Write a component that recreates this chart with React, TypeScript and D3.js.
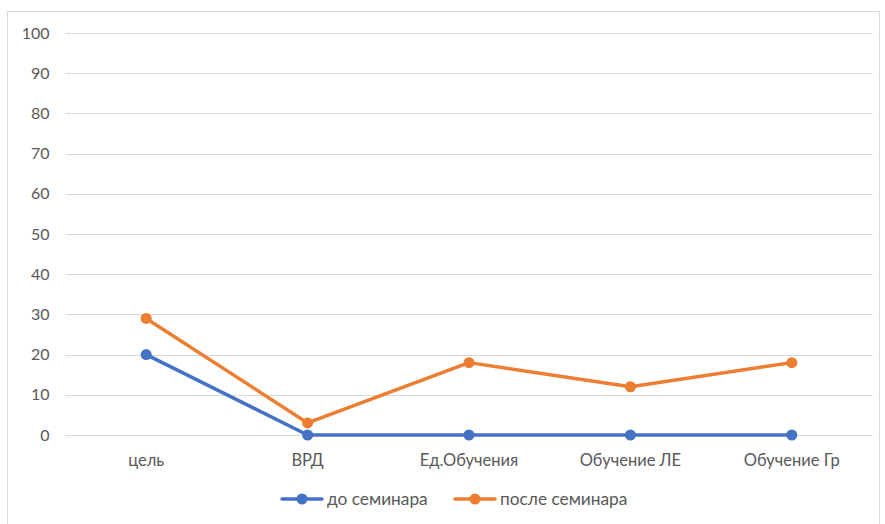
import React from "react";
import * as d3 from "d3";

const categories = ["цель", "ВРД", "Ед.Обучения", "Обучение ЛЕ", "Обучение Гр"];
const beforeValues = [20, 0, 0, 0, 0];
const afterValues = [29, 3, 18, 12, 18];
const seriesNames = ["до семинара", "после семинара"];
const yTicks = [0, 10, 20, 30, 40, 50, 60, 70, 80, 90, 100];

const W = 885;
const H = 524;
const colors = ["#4472C4", "#ED7D31"];
const font = "Lato, 'Open Sans', sans-serif";
const fs = 16;

export default function App() {
  const x = d3.scaleBand<string>().domain(categories).range([65.5, 872.5]);
  const y = d3.scaleLinear().domain([0, 100]).range([435, 33]);
  const cx = (c: string) => (x(c) as number) + x.bandwidth() / 2;
  const line = d3
    .line<number>()
    .x((_, i) => cx(categories[i]))
    .y((d) => y(d));
  const series = [beforeValues, afterValues];
  const legend = [
    { x0: 282, tx: 326 },
    { x0: 455, tx: 499 },
  ];
  return (
    <div style={{ position: "fixed", left: 0, top: 0, width: W, height: H, background: "#fff" }}>
      <svg width={W} height={H} style={{ display: "block" }}>
        <rect x={7.5} y={11.5} width={872} height={520} fill="#fff" stroke="#d9d9d9" strokeWidth={1} />
        {yTicks.map((t) => (
          <g key={t}>
            <line x1={65.5} x2={872.5} y1={Math.round(y(t)) + 0.5} y2={Math.round(y(t)) + 0.5} stroke="#d9d9d9" strokeWidth={1} />
            <text x={49.5} y={y(t)} dy="0.35em" textAnchor="end" fontFamily={font} fontSize={fs} fill="#595959">
              {t}
            </text>
          </g>
        ))}
        {categories.map((c) => (
          <text key={c} x={cx(c)} y={460} dy="0.35em" textAnchor="middle" fontFamily={font} fontSize={16.5} fill="#595959">
            {c}
          </text>
        ))}
        {series.map((s, si) => (
          <g key={si}>
            <path d={line(s) || ""} fill="none" stroke={colors[si]} strokeWidth={3.5} strokeLinejoin="round" strokeLinecap="round" />
            {s.map((v, i) => (
              <circle key={i} cx={cx(categories[i])} cy={y(v)} r={5.5} fill={colors[si]} />
            ))}
          </g>
        ))}
        {seriesNames.map((n, si) => (
          <g key={n}>
            <line x1={legend[si].x0} x2={legend[si].x0 + 40} y1={499} y2={499} stroke={colors[si]} strokeWidth={3.5} strokeLinecap="round" />
            <circle cx={legend[si].x0 + 20} cy={499} r={5.5} fill={colors[si]} />
            <text x={legend[si].tx + 1} y={499} dy="0.35em" fontFamily={font} fontSize={17.3} fill="#595959">
              {n}
            </text>
          </g>
        ))}
      </svg>
    </div>
  );
}
